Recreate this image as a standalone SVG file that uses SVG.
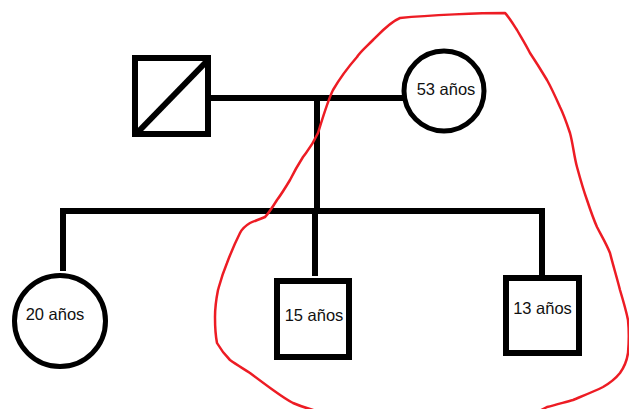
<svg xmlns="http://www.w3.org/2000/svg" width="629" height="409" viewBox="0 0 629 409">
  <style>
    .sq { fill: #fff; stroke: #000; stroke-width: 6; }
    .ci { fill: #fff; stroke: #000; stroke-width: 5; }
    .ln { fill: none; stroke: #000; stroke-width: 6; }
    .lbl { font-family: "Liberation Sans", Arial, sans-serif; font-size: 16.5px; fill: #111; text-anchor: middle; }
    .loop { fill: none; stroke: #ed1c24; stroke-width: 2.5; stroke-linejoin: round; }
  </style>
  <rect width="629" height="409" fill="#fff"/>

  <!-- connectors -->
  <g id="connectors">
    <line class="ln" x1="206" y1="98" x2="404" y2="98"/>
    <line class="ln" x1="317" y1="98" x2="317" y2="212"/>
    <path class="ln" d="M63 271 V211 H542 V276"/>
    <line class="ln" x1="315" y1="211" x2="315" y2="276"/>
  </g>

  <!-- father (deceased) -->
  <g id="father">
    <rect class="sq" x="135" y="58" width="73" height="76"/>
    <line class="ln" x1="138" y1="132" x2="208" y2="60"/>
  </g>

  <!-- mother -->
  <g id="mother">
    <circle class="ci" cx="444" cy="91" r="40"/>
    <text class="lbl" x="446" y="95">53 años</text>
  </g>

  <!-- daughter -->
  <g id="daughter">
    <circle class="ci" cx="60" cy="321" r="45.5"/>
    <text class="lbl" x="55" y="320">20 años</text>
  </g>

  <!-- son 15 -->
  <g id="son15">
    <rect class="sq" x="277" y="281" width="72" height="76"/>
    <text class="lbl" x="314" y="320.5">15 años</text>
  </g>

  <!-- son 13 -->
  <g id="son13">
    <rect class="sq" x="506" y="278" width="73" height="75"/>
    <text class="lbl" x="542.5" y="314">13 años</text>
  </g>

  <!-- hand-drawn enclosure -->
  <path class="loop" d="M505 13 C480 13 430 15 400 18 C390 22 380 33 373 40 C365 48 360 52 357 57 C350 65 340 78 333 90 C328 100 322 120 318 133 C312 146 308 150 303 157 C296 168 292 176 290 180 C284 190 280 196 277 200 C272 208 268 214 265 217 C258 220 254 221 250 223 C245 226 242 229 240 233 C234 245 230 255 227 263 C222 275 220 283 218 290 C216 300 215 310 215 317 C215 328 216 338 217 343 C221 350 226 356 230 360 C237 365 244 369 250 373 C258 379 266 385 273 390 C280 395 287 400 293 403 C300 406 306 408 313 410 L330 416 L530 416 L547 407 C556 405 565 402 573 400 C585 395 595 391 603 387 C610 383 616 378 620 373 C625 366 627 360 628 353 C629 342 629 330 628 320 C626 310 623 300 620 290 C617 278 613 265 610 253 C606 243 601 235 597 227 C593 218 590 209 587 200 C583 189 580 178 577 167 C574 156 573 144 570 133 C567 124 564 115 560 107 C556 98 552 89 547 80 C541 70 536 62 530 53 C526 45 521 37 517 30 C513 24 509 17 505 13 Z"/>
</svg>
